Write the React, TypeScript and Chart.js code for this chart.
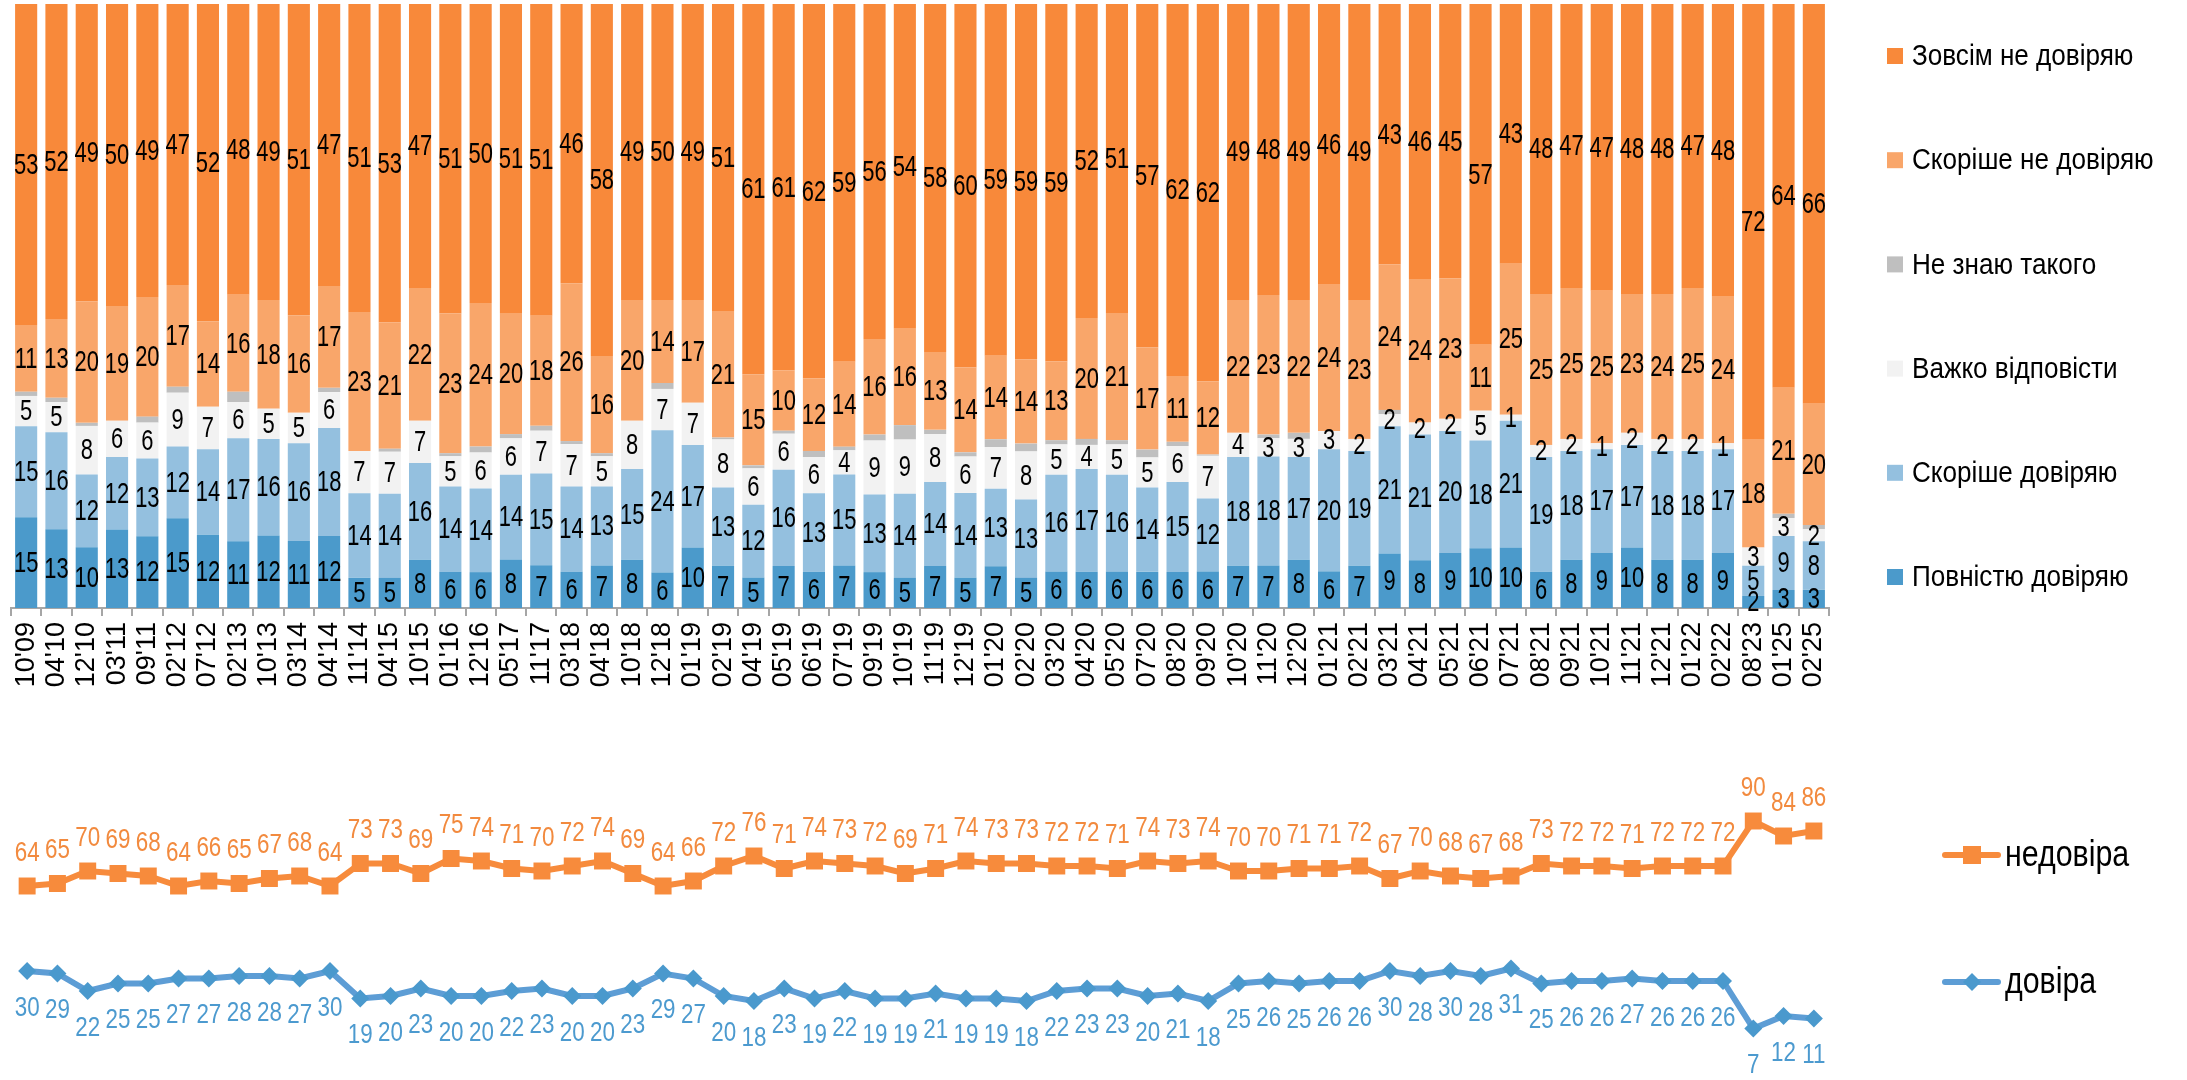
import React, { useEffect, useRef } from 'react';
import { Chart, registerables } from 'chart.js';

Chart.register(...registerables);

const FONT = '"Liberation Sans", Arial, sans-serif';

// ---------- data ----------
const categories = [
  "10'09", "04'10", "12'10", "03'11", "09'11", "02'12", "07'12", "02'13", "10'13", "03'14",
  "04'14", "11'14", "04'15", "10'15", "01'16", "12'16", "05'17", "11'17", "03'18", "04'18",
  "10'18", "12'18", "01'19", "02'19", "04'19", "05'19", "06'19", "07'19", "09'19", "10'19",
  "11'19", "12'19", "01'20", "02'20", "03'20", "04'20", "05'20", "07'20", "08'20", "09'20",
  "10'20", "11'20", "12'20", "01'21", "02'21", "03'21", "04'21", "05'21", "06'21", "07'21",
  "08'21", "09'21", "10'21", "11'21", "12'21", "01'22", "02'22", "08'23", "01'25", "02'25",
];

const fullyTrust = [
  15, 13, 10, 13, 12, 15, 12, 11, 12, 11, 12, 5, 5, 8, 6,
  6, 8, 7, 6, 7, 8, 6, 10, 7, 5, 7, 6, 7, 6, 5, 7,
  5, 7, 5, 6, 6, 6, 6, 6, 6, 7, 7, 8, 6, 7,
  9, 8, 9, 10, 10, 6, 8, 9, 10, 8, 8, 9, 2, 3, 3,
];

const ratherTrust = [
  15, 16, 12, 12, 13, 12, 14, 17, 16, 16, 18, 14, 14, 16, 14,
  14, 14, 15, 14, 13, 15, 24, 17, 13, 12, 16, 13, 15, 13, 14, 14,
  14, 13, 13, 16, 17, 16, 14, 15, 12, 18, 18, 17, 20, 19,
  21, 21, 20, 18, 21, 19, 18, 17, 17, 18, 18, 17, 5, 9, 8,
];

const hardToSay = [
  5, 5, 8, 6, 6, 9, 7, 6, 5, 5, 6, 7, 7, 7, 5,
  6, 6, 7, 7, 5, 8, 7, 7, 8, 6, 6, 6, 4, 9, 9, 8,
  6, 7, 8, 5, 4, 5, 5, 6, 7, 4, 3, 3, 3, 2,
  2, 2, 2, 5, 1, 2, 2, 1, 2, 2, 2, 1, 3, 3, 2,
];

// unlabeled in the reference – estimated from the thin grey bands
const dontKnow = [
  0.7, 0.7, 0.5, 0, 1, 1, 0, 1.7, 0, 0, 0.7, 0, 0.5, 0, 0.5,
  1, 0.7, 0.8, 0.5, 0.5, 0, 1, 0, 0.3, 0.5, 0.5, 1, 0.6, 1, 2.4, 0.7,
  0.7, 1.3, 1.3, 0.7, 1, 0.7, 1.3, 0.7, 0.2, 0, 0.6, 1, 0, 0,
  0.7, 0, 0, 0, 0, 0, 0, 0, 0, 0, 0, 0, 0, 0.7, 0.7,
];

const ratherNotTrust = [
  11, 13, 20, 19, 20, 17, 14, 16, 18, 16, 17, 23, 21, 22, 23,
  24, 20, 18, 26, 16, 20, 14, 17, 21, 15, 10, 12, 14, 16, 16, 13,
  14, 14, 14, 13, 20, 21, 17, 11, 12, 22, 23, 22, 24, 23,
  24, 24, 23, 11, 25, 25, 25, 25, 23, 24, 25, 24, 18, 21, 20,
];

const notTrustAtAll = [
  53, 52, 49, 50, 49, 47, 52, 48, 49, 51, 47, 51, 53, 47, 51,
  50, 51, 51, 46, 58, 49, 50, 49, 51, 61, 61, 62, 59, 56, 54, 58,
  60, 59, 59, 59, 52, 51, 57, 62, 62, 49, 48, 49, 46, 49,
  43, 46, 45, 57, 43, 48, 47, 47, 48, 48, 47, 48, 72, 64, 66,
];

const distrustLine = [
  64, 65, 70, 69, 68, 64, 66, 65, 67, 68, 64, 73, 73, 69, 75, 74, 71, 70, 72, 74,
  69, 64, 66, 72, 76, 71, 74, 73, 72, 69, 71, 74, 73, 73, 72, 72, 71, 74, 73, 74,
  70, 70, 71, 71, 72, 67, 70, 68, 67, 68, 73, 72, 72, 71, 72, 72, 72, 90, 84, 86,
];

const trustLine = [
  30, 29, 22, 25, 25, 27, 27, 28, 28, 27, 30, 19, 20, 23, 20, 20, 22, 23, 20, 20,
  23, 29, 27, 20, 18, 23, 19, 22, 19, 19, 21, 19, 19, 18, 22, 23, 23, 20, 21, 18,
  25, 26, 25, 26, 26, 30, 28, 30, 28, 31, 25, 26, 26, 27, 26, 26, 26, 7, 12, 11,
];

const barSeriesNames = [
  'Повністю довіряю',
  'Скоріше довіряю',
  'Важко відповісти',
  'Не знаю такого',
  'Скоріше не довіряю',
  'Зовсім не довіряю',
];
const lineSeriesNames = ['недовіра', 'довіра'];

// ---------- styles ----------
const COLORS = {
  fully: '#4B9ACB',
  rather: '#94C0DF',
  hard: '#F2F2F2',
  dontKnow: '#BFBFBF',
  ratherNot: '#F9A66A',
  notAtAll: '#F8893A',
  orangeLine: '#F78B3C',
  orangeText: '#F28A3E',
  blueLine: '#5D9DD5',
  bluePoint: '#4A99CD',
  blueText: '#4C9ACF',
};

function drawText(
  ctx: CanvasRenderingContext2D,
  text: string,
  x: number,
  y: number,
  size: number,
  sx: number,
  color: string,
  align: CanvasTextAlign = 'center',
) {
  ctx.save();
  ctx.translate(x, y);
  ctx.scale(sx, 1);
  ctx.font = `${size}px ${FONT}`;
  ctx.fillStyle = color;
  ctx.textAlign = align;
  ctx.textBaseline = 'middle';
  ctx.fillText(text, 0, 0);
  ctx.restore();
}

const barLabelsPlugin = {
  id: 'barLabels',
  afterDatasetsDraw(chart: any) {
    const ctx = chart.ctx;
    chart.data.datasets.forEach((ds: any, di: number) => {
      if (!ds.showLabels) return;
      const meta = chart.getDatasetMeta(di);
      meta.data.forEach((el: any, i: number) => {
        const v = ds.rawValues[i];
        if (v === null || v === undefined) return;
        const p = el.getProps(['x', 'y', 'base'], true);
        drawText(ctx, String(v), p.x, (p.y + p.base) / 2 + 1, 30, 0.73, '#000');
      });
    });
  },
};

const barLegendPlugin = {
  id: 'barLegend',
  afterDraw(chart: any) {
    const ctx = chart.ctx;
    const items = chart.data.datasets.slice().reverse();
    items.forEach((ds: any, k: number) => {
      const cy = 56 + k * 104.2;
      ctx.save();
      ctx.fillStyle = ds.backgroundColor;
      ctx.fillRect(1887, cy - 8, 16, 16);
      ctx.restore();
      drawText(ctx, ds.label, 1912, cy + 1, 30, 0.87, '#000', 'left');
    });
  },
};

const lineLabelsPlugin = {
  id: 'lineLabels',
  afterDatasetsDraw(chart: any) {
    const ctx = chart.ctx;
    chart.data.datasets.forEach((ds: any, di: number) => {
      const meta = chart.getDatasetMeta(di);
      meta.data.forEach((el: any, i: number) => {
        const v = ds.data[i];
        const p = el.getProps(['x', 'y'], true);
        const dy = ds.labelAbove ? -33 : 37;
        drawText(ctx, String(v), p.x, p.y + dy, 28, 0.8, ds.labelColor);
      });
    });
  },
};

const lineLegendPlugin = {
  id: 'lineLegend',
  afterDraw(chart: any) {
    const ctx = chart.ctx;
    const top = 760;
    chart.data.datasets.forEach((ds: any, k: number) => {
      const cy = (k === 0 ? 855 : 982) - top;
      ctx.save();
      ctx.strokeStyle = ds.borderColor;
      ctx.lineWidth = 6;
      ctx.lineCap = 'round';
      ctx.beginPath();
      ctx.moveTo(1945, cy);
      ctx.lineTo(1998, cy);
      ctx.stroke();
      ctx.fillStyle = ds.pointBackgroundColor;
      ctx.beginPath();
      if (ds.pointStyle === 'rect') {
        ctx.rect(1972 - 9, cy - 9, 18, 18);
      } else {
        ctx.moveTo(1972, cy - 9);
        ctx.lineTo(1981, cy);
        ctx.lineTo(1972, cy + 9);
        ctx.lineTo(1963, cy);
        ctx.closePath();
      }
      ctx.fill();
      ctx.restore();
      drawText(ctx, ds.label, 2005, cy + 1, 37, 0.82, '#000', 'left');
    });
  },
};

export default function App() {
  const barRef = useRef<HTMLCanvasElement | null>(null);
  const lineRef = useRef<HTMLCanvasElement | null>(null);

  useEffect(() => {
    const raw = [fullyTrust, ratherTrust, hardToSay, dontKnow, ratherNotTrust, notTrustAtAll];
    const totals = categories.map((_, i) => raw.reduce((s, arr) => s + arr[i], 0));
    const share = (arr: number[]) => arr.map((v, i) => (v / totals[i]) * 100);
    const colors = [COLORS.fully, COLORS.rather, COLORS.hard, COLORS.dontKnow, COLORS.ratherNot, COLORS.notAtAll];

    const barChart = new Chart(barRef.current as HTMLCanvasElement, {
      type: 'bar',
      data: {
        labels: categories,
        datasets: raw.map((arr, k) => ({
          label: barSeriesNames[k],
          data: share(arr),
          rawValues: arr,
          showLabels: k !== 3,
          backgroundColor: colors[k],
          borderWidth: 0,
          categoryPercentage: 1,
          barPercentage: 0.73,
        })) as any,
      },
      options: {
        animation: false,
        responsive: false,
        maintainAspectRatio: false,
        layout: { padding: { left: 11, right: 358, top: 4, bottom: 0 } },
        plugins: { legend: { display: false }, tooltip: { enabled: false } },
        scales: {
          x: {
            stacked: true,
            offset: true,
            grid: {
              display: true,
              drawOnChartArea: false,
              drawTicks: true,
              tickLength: 8,
              color: '#A6A6A6',
              lineWidth: 2,
              offset: true,
            },
            border: { display: true, color: '#A6A6A6', width: 2 },
            ticks: {
              autoSkip: false,
              minRotation: 90,
              maxRotation: 90,
              padding: 6,
              color: '#000',
              font: { family: FONT, size: 27 },
            },
            afterFit: (s: any) => {
              s.height = 112;
            },
          },
          y: { stacked: true, display: false, min: 0, max: 100 },
        },
      } as any,
      plugins: [barLabelsPlugin, barLegendPlugin],
    });

    const lineChart = new Chart(lineRef.current as HTMLCanvasElement, {
      type: 'line',
      data: {
        labels: categories,
        datasets: [
          {
            label: lineSeriesNames[0],
            data: distrustLine,
            borderColor: COLORS.orangeLine,
            backgroundColor: COLORS.orangeLine,
            borderWidth: 6,
            pointStyle: 'rect',
            pointRadius: 12,
            pointBorderWidth: 0,
            pointBackgroundColor: COLORS.orangeLine,
            tension: 0,
            clip: false,
            labelAbove: true,
            labelColor: COLORS.orangeText,
          },
          {
            label: lineSeriesNames[1],
            data: trustLine,
            borderColor: COLORS.blueLine,
            backgroundColor: COLORS.bluePoint,
            borderWidth: 6,
            pointStyle: 'rectRot',
            pointRadius: 9,
            pointBorderWidth: 0,
            pointBackgroundColor: COLORS.bluePoint,
            tension: 0,
            clip: false,
            labelAbove: false,
            labelColor: COLORS.blueText,
          },
        ] as any,
      },
      options: {
        animation: false,
        responsive: false,
        maintainAspectRatio: false,
        layout: { padding: { left: 11, right: 358, top: 36, bottom: 34 } },
        plugins: { legend: { display: false }, tooltip: { enabled: false } },
        scales: {
          x: { display: false, offset: true },
          y: { display: false, min: 0, max: 100 },
        },
      } as any,
      plugins: [lineLabelsPlugin, lineLegendPlugin],
    });

    return () => {
      barChart.destroy();
      lineChart.destroy();
    };
  }, []);

  return (
    <div
      style={{
        position: 'absolute',
        left: 0,
        top: 0,
        width: 2187,
        height: 1080,
        overflow: 'hidden',
        background: '#fff',
      }}
    >
      <canvas ref={barRef} width={2187} height={720} style={{ position: 'absolute', left: 0, top: 0 }} />
      <canvas ref={lineRef} width={2187} height={320} style={{ position: 'absolute', left: 0, top: 760 }} />
    </div>
  );
}
